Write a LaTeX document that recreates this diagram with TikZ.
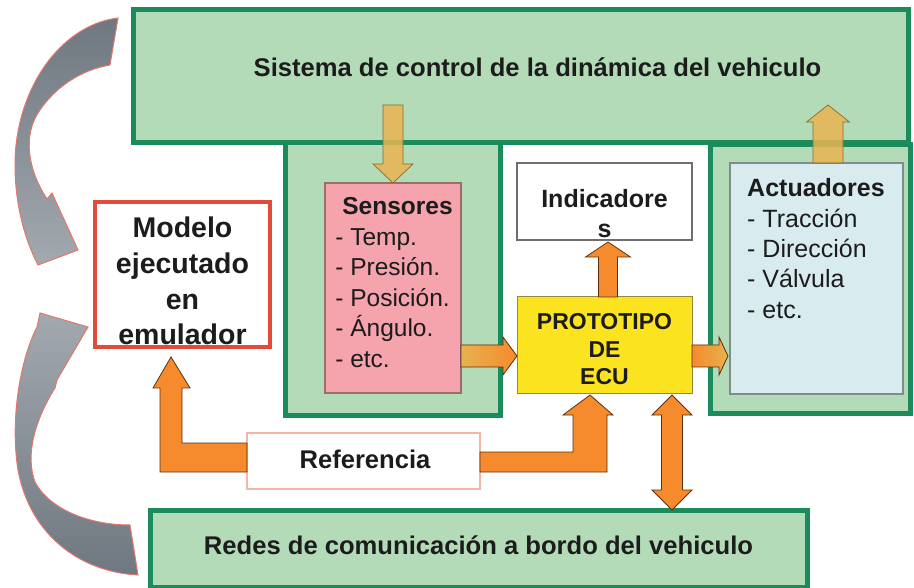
\documentclass[tikz,border=0pt]{standalone}
\usepackage{fontspec}
\setmainfont{Liberation Sans}
\usetikzlibrary{calc}
\definecolor{gborder}{HTML}{1A8C5C}
\definecolor{gfill}{HTML}{B4DBB8}
\definecolor{pinkf}{HTML}{F5A3AC}
\definecolor{pinkb}{HTML}{9B6E6E}
\definecolor{bluef}{HTML}{D8ECEF}
\definecolor{blueb}{HTML}{7F8C8C}
\definecolor{yellowf}{HTML}{FBE320}
\definecolor{yellowb}{HTML}{8F8A40}
\definecolor{orangef}{HTML}{F58B2C}
\definecolor{arrline}{HTML}{5A3010}
\definecolor{tanf}{HTML}{E8B452}
\definecolor{tanline}{HTML}{8A6A30}
\definecolor{redb}{HTML}{E04B3A}
\definecolor{refb}{HTML}{F1B7A8}
\definecolor{indb}{HTML}{6E6E6E}
\definecolor{graydk}{HTML}{6F7780}
\definecolor{graylt}{HTML}{A2A9AF}
\definecolor{grayo}{HTML}{E3786A}
\definecolor{txt}{HTML}{1C1C1C}
% straight block arrow: style, from, to, shaft half width, head half width, head length
\newcommand\barrow[6]{%
  \path[#1] let \p1=(#2), \p2=(#3), \n1={atan2(\y2-\y1,\x2-\x1)}, \n2={veclen(\x2-\x1,\y2-\y1)} in
    {[shift={(\p1)}, rotate=\n1]
     (0pt,-#4pt) -- (\n2-#6pt,-#4pt) -- (\n2-#6pt,-#5pt) -- (\n2+0pt,0pt) -- (\n2-#6pt,#5pt) -- (\n2-#6pt,#4pt) -- (0pt,#4pt) -- cycle};}
% double block arrow
\newcommand\dbarrow[6]{%
  \path[#1] let \p1=(#2), \p2=(#3), \n1={atan2(\y2-\y1,\x2-\x1)}, \n2={veclen(\x2-\x1,\y2-\y1)} in
    {[shift={(\p1)}, rotate=\n1]
     (0pt,0pt) -- (#6pt,-#5pt) -- (#6pt,-#4pt) -- (\n2-#6pt,-#4pt) -- (\n2-#6pt,-#5pt) -- (\n2+0pt,0pt) -- (\n2-#6pt,#5pt) -- (\n2-#6pt,#4pt) -- (#6pt,#4pt) -- (#6pt,#5pt) -- cycle};}
\begin{document}
\begin{tikzpicture}[x=1pt,y=-1pt,
  box/.style={anchor=north west, inner sep=0pt, outer sep=0pt, draw},
  gbox/.style={box, draw=gborder, fill=gfill, line width=5pt},
  lbl/.style={text=txt, inner sep=0pt},
  ttl/.style={lbl, font=\fontsize{25.6}{30}\selectfont\bfseries},
  lst/.style={lbl, align=left, font=\fontsize{24.5}{30.6}\selectfont},
  orarrow/.style={fill=orangef, draw=arrline, line width=0.8pt},
  tanarrow/.style={fill=tanf, draw=tanline, line width=0.7pt, fill opacity=0.85},
  grayarrow/.style={draw=grayo, line width=1pt}]
\useasboundingbox (0,0) rectangle (914,588);

% containers
\node[gbox, minimum width=215, minimum height=272] (sc) at (285,143) {};
\node[gbox, minimum width=200, minimum height=268] (ac) at (710,145) {};
\node[gbox, minimum width=775, minimum height=133,
  label={[ttl, xshift=17pt, yshift=8.8pt]center:Sistema de control de la dinámica del vehiculo}] (top) at (133,10) {};
\node[gbox, minimum width=657, minimum height=77,
  label={[ttl, yshift=2.8pt]center:Redes de comunicación a bordo del vehiculo}] (redes) at (150,510) {};

% inner boxes
\node[box, draw=pinkb, fill=pinkf, line width=1.2pt, minimum width=136, minimum height=210,
  label={[lst, xshift=1pt, yshift=5.5pt]center:\hspace*{7pt}{\bfseries Sensores}\\- Temp.\\- Presión.\\- Posición.\\- Ángulo.\\- etc.}] (sens) at (325,183) {};
\node[box, draw=blueb, fill=bluef, line width=1.5pt, minimum width=173, minimum height=231,
  label={[lst, font=\fontsize{25}{30.3}\selectfont, xshift=-0.5pt, yshift=30pt]center:{\bfseries Actuadores}\\- Tracción\\- Dirección\\- Válvula\\- etc.}] (act) at (730,163) {};
\node[box, draw=indb, fill=white, line width=1.3pt, minimum width=175, minimum height=77,
  label={[lbl, align=center, font=\fontsize{25}{30}\selectfont\bfseries, yshift=-12pt]center:Indicadore\\s}] (ind) at (517,163) {};
\node[box, draw=yellowb, fill=yellowf, line width=1pt, minimum width=175, minimum height=96,
  label={[lbl, align=center, font=\fontsize{23}{27.5}\selectfont\bfseries, yshift=-4.2pt]center:PROTOTIPO\\DE\\ECU}] (ecu) at (517,297) {};
\node[box, draw=redb, fill=white, line width=4pt, minimum width=175, minimum height=145,
  label={[lbl, align=center, font=\fontsize{28.5}{35.7}\selectfont\bfseries, yshift=-6.5pt]center:Modelo\\ejecutado\\en\\emulador}] (modelo) at (95,202) {};
\node[box, draw=refb, fill=white, line width=1.3pt, minimum width=233, minimum height=56,
  label={[ttl, xshift=1.5pt, yshift=2pt]center:Referencia}] (ref) at (247,433) {};

% block arrows
\barrow{tanarrow}{sens.north |- 0,105}{sens.north}{10}{20}{19}
\barrow{tanarrow}{act.north -| 828,0}{828,105}{15}{21.5}{17}
\barrow{orarrow, fill opacity=0.95, left color=tanf, right color=orangef}{sens.east |- 0,356}{ecu.west |- 0,356}{11}{19}{14}
\barrow{orarrow, fill opacity=0.95, left color=orangef, right color=tanf}{ecu.east |- 0,356}{728,356}{11}{19}{9}
\barrow{orarrow}{ecu.north -| 608,0}{608,242}{9.5}{22.5}{15}
\dbarrow{orarrow}{672,395}{redes.north -| 672,0}{10.5}{20}{20}

% L-shaped arrows from Referencia
\coordinate (ecuin) at (590,395);
\coordinate (modin) at (171,357);
\path[orarrow] (ref.east |- 0,452) -- (573,452) -- (573,415) -- (563,415) -- (ecuin)
  -- (613,415) -- (607,415) -- (607,472) -- (ref.east |- 0,472) -- cycle;
\path[orarrow] (ref.west |- 0,443) -- (182,443) -- (182,388) -- (190,388) -- (modin)
  -- (153,388) -- (160,388) -- (160,472) -- (ref.west |- 0,472) -- cycle;

% gray curved arrows
\path[grayarrow, top color=graydk, bottom color=graylt] (118,18) .. controls (60,25) and (15,90) .. (15,165)
  .. controls (15,205) and (25,240) .. (38,265) -- (78,250) -- (52,193) -- (47,199)
  .. controls (28,170) and (22,135) .. (40,110) .. controls (55,88) and (80,70) .. (110,65) -- cycle;
\path[grayarrow, top color=graylt, bottom color=graydk] (138,575) .. controls (80,572) and (30,535) .. (18,470)
  .. controls (10,420) and (20,360) .. (37,327) -- (40,313) -- (88,327) -- (57,380) -- (55,388)
  .. controls (35,420) and (25,455) .. (35,482) .. controls (50,510) and (90,525) .. (130,525) -- cycle;
\end{tikzpicture}
\end{document}
